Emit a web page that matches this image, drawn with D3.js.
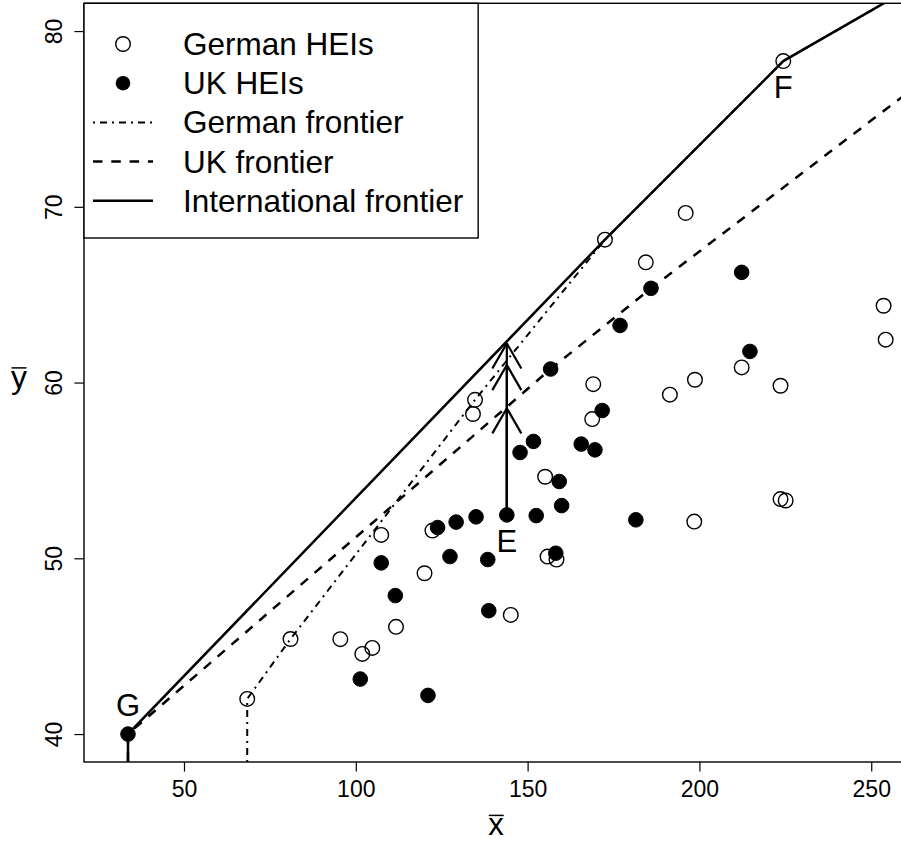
<!DOCTYPE html>
<html><head><meta charset="utf-8">
<script src="https://cdn.jsdelivr.net/npm/d3@7"></script>
<style>html,body{margin:0;padding:0;background:#fff;} svg{display:block;}</style>
</head><body>
<svg id="chart" width="901" height="841"></svg>
<script>
// ---------- data ----------
const germanX = [224.4,172.5,196.0,184.4,253.6,254.2,212.3,198.7,223.6,169.1,191.4,168.8,134.7,134.1,155.1,223.6,225.1,198.5,122.3,107.4,155.8,158.4,120.0,111.7,145.1,81.0,95.5,101.9,104.8,68.4];
const germanY = [78.29,68.13,69.65,66.84,64.37,62.44,60.86,60.16,59.82,59.91,59.31,57.92,59.02,58.21,54.64,53.37,53.29,52.09,51.58,51.33,50.10,49.93,49.15,46.10,46.78,45.41,45.40,44.56,44.90,42.00];
const ukX = [33.7,143.95,156.7,171.7,151.7,147.8,165.6,169.6,159.2,159.9,152.5,135.0,129.2,123.8,107.4,127.4,138.4,158.2,111.5,138.7,101.3,121.0,185.9,212.3,176.9,214.7,181.5];
const ukY = [40.0,52.47,60.77,58.41,56.65,56.02,56.50,56.17,54.37,53.00,52.43,52.36,52.06,51.75,49.74,50.10,49.93,50.29,47.88,47.02,43.13,42.20,65.36,66.27,63.25,61.77,52.19];

const intlFrontX = [33.7,172.5,224.4,265];
const intlFrontY = [40.0,68.13,78.29,82.86];
const gerFrontX = [68.4,81.0,134.7,172.5,224.4,265];
const gerFrontY = [42.0,45.41,59.02,68.13,78.29,82.86];
const ukFrontX = [33.7,156.7,185.9,265];
const ukFrontY = [40.0,60.77,65.36,77.15];

// arrows from E to the three frontiers (UK, German, International)
const arrowTargetsY = [58.54,61.0,62.23];

const xTicks = [50,100,150,200,250];
const yTicks = [40,50,60,70,80];
const xDomain = [20.9,260.7];
const yDomain = [38.41,81.58];

const legendLabels = ["German HEIs","UK HEIs","German frontier","UK frontier","International frontier"];
const pointLabels = ["E","F","G"];

// ---------- layout ----------
const FONT = "'Liberation Sans', Arial, Helvetica, sans-serif";
const plot = {left:84, right:908, top:3.3, bottom:762};
const svg = d3.select("#chart");
svg.append("rect").attr("width",901).attr("height",841).attr("fill","#fff");

const x = d3.scaleLinear().domain(xDomain).range([plot.left, plot.right]);
const y = d3.scaleLinear().domain(yDomain).range([plot.bottom, plot.top]);

svg.append("clipPath").attr("id","clip").append("rect")
  .attr("x",plot.left).attr("y",plot.top)
  .attr("width",plot.right-plot.left).attr("height",plot.bottom-plot.top);

// axes
const xAxis = svg.append("g").attr("transform",`translate(0,${plot.bottom})`)
  .call(d3.axisBottom(x).tickValues(xTicks).tickSize(9.6).tickPadding(9.1).tickFormat(d3.format("d")));
xAxis.select(".domain").remove();
xAxis.selectAll("line").attr("stroke","#000").attr("stroke-width",1.2);
xAxis.selectAll("text").attr("font-family",FONT).attr("font-size",23).attr("fill","#000");

const yAxis = svg.append("g").attr("transform",`translate(${plot.left},0)`)
  .call(d3.axisLeft(y).tickValues(yTicks).tickSize(9.6).tickFormat(d3.format("d")));
yAxis.select(".domain").remove();
yAxis.selectAll("line").attr("stroke","#000").attr("stroke-width",1.2);
yAxis.selectAll("text").attr("font-family",FONT).attr("font-size",23).attr("fill","#000")
  .attr("x",null).attr("dy",null).attr("text-anchor","middle")
  .attr("transform","translate(-22.3,0) rotate(-90)");

// plot box
svg.append("rect").attr("x",plot.left).attr("y",plot.top)
  .attr("width",plot.right-plot.left).attr("height",plot.bottom-plot.top)
  .attr("fill","none").attr("stroke","#000").attr("stroke-width",1.4);

// frontiers
const line = d3.line().x(d=>x(d[0])).y(d=>y(d[1]));
const lines = svg.append("g").attr("clip-path","url(#clip)");
function frontier(xs, ys){
  const pts = xs.map((v,i)=>[v,ys[i]]);
  return [[xs[0], yDomain[0]]].concat(pts);
}
lines.append("path").datum(frontier(gerFrontX,gerFrontY)).attr("d",line)
  .attr("fill","none").attr("stroke","#000").attr("stroke-width",2)
  .attr("stroke-dasharray","2,5,7,5");
lines.append("path").datum(frontier(ukFrontX,ukFrontY)).attr("d",line)
  .attr("fill","none").attr("stroke","#000").attr("stroke-width",2.5)
  .attr("stroke-dasharray","9.5,8.8");
lines.append("path").datum(frontier(intlFrontX,intlFrontY)).attr("d",line)
  .attr("fill","none").attr("stroke","#000").attr("stroke-width",2.5);

// arrows from E
const ex = ukX[1], ey = ukY[1];
const arrows = svg.append("g").attr("stroke","#000").attr("stroke-width",2.2).attr("fill","none");
const headLen = 29, headAng = Math.PI/6;
arrowTargetsY.forEach(t=>{
  const x0 = x(ex), y0 = y(ey), x1 = x(ex), y1 = y(t);
  arrows.append("line").attr("x1",x0).attr("y1",y0).attr("x2",x1).attr("y2",y1);
  const ang = Math.atan2(y0-y1, x0-x1);
  [-1,1].forEach(s=>{
    arrows.append("line").attr("x1",x1).attr("y1",y1)
      .attr("x2",x1+headLen*Math.cos(ang+s*headAng))
      .attr("y2",y1+headLen*Math.sin(ang+s*headAng));
  });
});

// points
const R = 7.3;
svg.append("g").selectAll("circle").data(germanX.map((v,i)=>[v,germanY[i]])).join("circle")
  .attr("cx",d=>x(d[0])).attr("cy",d=>y(d[1])).attr("r",R)
  .attr("fill","none").attr("stroke","#000").attr("stroke-width",1.4);
svg.append("g").selectAll("circle").data(ukX.map((v,i)=>[v,ukY[i]])).join("circle")
  .attr("cx",d=>x(d[0])).attr("cy",d=>y(d[1])).attr("r",R)
  .attr("fill","#000").attr("stroke","#000").attr("stroke-width",1);

// point labels E (below), F (below), G (above)
const labelPts = [[ukX[1],ukY[1],37],[germanX[0],germanY[0],37],[ukX[0],ukY[0],-18]];
pointLabels.forEach((lab,i)=>{
  const p = labelPts[i];
  svg.append("text").attr("x",x(p[0])).attr("y",y(p[1])+p[2])
    .attr("text-anchor","middle").attr("font-family",FONT).attr("font-size",31).attr("fill","#000").text(lab);
});

// axis titles with bars
function barLabel(px, baseline, fs, txt){
  const g = svg.append("g");
  const t = g.append("text").attr("x",px).attr("y",baseline).attr("text-anchor","middle")
    .attr("font-family",FONT).attr("font-size",fs).attr("fill","#000").text(txt);
  const bb = t.node().getBBox();
  g.append("line").attr("x1",bb.x+0.5).attr("x2",bb.x+bb.width-0.5)
    .attr("y1",baseline-0.519*fs-3.5).attr("y2",baseline-0.519*fs-3.5)
    .attr("stroke","#000").attr("stroke-width",1.5);
}
barLabel((plot.left+plot.right)/2, 835, 31, "x");
barLabel(19, 388, 32, "y");

// legend
const lg = svg.append("g");
const legendFs = 31.5;
const base0 = 55, step = 39.2;
const texts = [];
legendLabels.forEach((lab,i)=>{
  const by = base0 + i*step;
  texts.push({lab, by});
});
const boxRect = lg.append("rect").attr("x",plot.left).attr("y",plot.top)
  .attr("fill","#fff").attr("stroke","#000").attr("stroke-width",1.4);
let maxEnd = 0;
texts.forEach((d,i)=>{
  const cy = d.by - 11;
  const t = lg.append("text").attr("x",183).attr("y",d.by).attr("font-family",FONT).attr("font-size",legendFs).attr("fill","#000").text(d.lab);
  maxEnd = Math.max(maxEnd, 183 + t.node().getComputedTextLength());
  if(i===0) lg.append("circle").attr("cx",123).attr("cy",cy).attr("r",R).attr("fill","none").attr("stroke","#000").attr("stroke-width",1.4);
  if(i===1) lg.append("circle").attr("cx",123).attr("cy",cy).attr("r",R).attr("fill","#000");
  if(i>=2){
    const l = lg.append("line").attr("x1",93).attr("x2",153).attr("y1",cy).attr("y2",cy).attr("stroke","#000");
    if(i===2) l.attr("stroke-width",2).attr("stroke-dasharray","2,5,7,5");
    if(i===3) l.attr("stroke-width",2.5).attr("stroke-dasharray","9.5,8.8");
    if(i===4) l.attr("stroke-width",2.5);
  }
});
boxRect.attr("width",maxEnd + 15 - plot.left).attr("height",238-plot.top);
</script>
</body></html>
